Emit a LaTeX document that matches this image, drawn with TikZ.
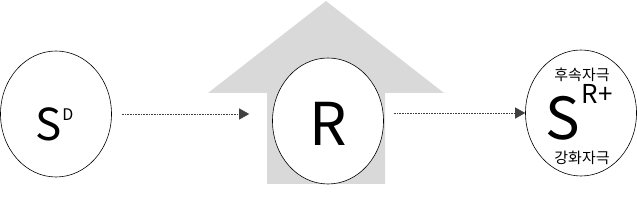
\documentclass[tikz,border=0pt]{standalone}
\usepackage{fontspec}
\setmainfont{Noto Sans CJK KR}
\usetikzlibrary{arrows.meta,positioning,calc,shapes.geometric}
\tikzset{
  stimnode/.style={draw, ellipse, line width=0.6pt, fill=white, inner sep=0pt, minimum width=111pt, minimum height=126pt},
  bigletter/.style={inner sep=0pt, anchor=center},
  smalllabel/.style={inner sep=0pt, font=\fontsize{15}{15}\selectfont},
  flowarrow/.style={-{Triangle[length=10pt,width=11pt]}, line width=0.7pt, black!75, dash pattern=on 1pt off 0.6pt}
}
\begin{document}
\begin{tikzpicture}[x=1pt, y=-1pt]
\useasboundingbox (0,0) rectangle (637,208);
% background up-arrow behind R
\fill[black!15] (326,1) -- (444,93) -- (385,93) -- (385,184) -- (267,184) -- (267,93) -- (208,93) -- cycle;
\node[stimnode] (sd) at (56,114) {};
\node[stimnode] (resp) at (328,121) {};
\node[stimnode] (srp) at (581,113) {};
\node[bigletter, font=\fontsize{44}{44}\selectfont] (sdS) at ($(sd)+(-7,10)$) {S};
\node[bigletter, font=\fontsize{16}{16}\selectfont] (sdD) at ($(sd)+(12,1)$) {D};
\node[bigletter, font=\fontsize{59}{59}\selectfont] (respR) at ($(resp)+(0,3)$) {R};
\node[bigletter, font=\fontsize{58}{58}\selectfont] (srpS) at ($(srp)+(-18,5)$) {S};
\node[bigletter, font=\fontsize{26}{26}\selectfont] (srpR) at ($(srp)+(16,-19)$) {R+};
\node[smalllabel] (after) at ($(srp)+(1,-38)$) {후속자극};
\node[smalllabel] (reinf) at ($(srp)+(1,45)$) {강화자극};
\draw[flowarrow] ([xshift=10pt]sd.east) -- ([xshift=-23pt]sd.east -| resp.west);
\draw[flowarrow] ([xshift=10pt]srp.west -| resp.east) -- (srp.west);
\end{tikzpicture}
\end{document}
